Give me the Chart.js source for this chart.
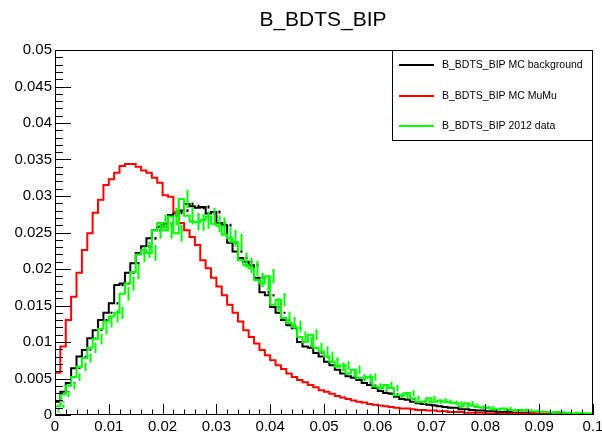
<!DOCTYPE html>
<html>
<head>
<meta charset="utf-8">
<title>B_BDTS_BIP</title>
<script src="https://cdn.jsdelivr.net/npm/chart.js@4.4.1/dist/chart.umd.min.js"></script>
<style>
  html, body { margin: 0; padding: 0; background: #fff; }
  canvas { display: block; }
</style>
</head>
<body>
<canvas id="myChart" width="602" height="433"></canvas>
<script>
// histogram binning: 100 bins between 0 and 0.1
const xMin = 0;
const xMax = 0.1;
const nBins = 100;

// bin contents, normalised to unit area
const mcBackground = [
  0.0008, 0.0018, 0.0032, 0.0044, 0.0064, 0.0080, 0.0089, 0.0105, 0.0116, 0.0130,
  0.0140, 0.0153, 0.0178, 0.0180, 0.0195, 0.0208, 0.0222, 0.0231, 0.0242, 0.0253,
  0.0258, 0.0262, 0.0274, 0.0277, 0.0280, 0.0289, 0.0286, 0.0284, 0.0285, 0.0276,
  0.0278, 0.0263, 0.0260, 0.0236, 0.0224, 0.0215, 0.0210, 0.0205, 0.0188, 0.0168,
  0.0164, 0.0148, 0.0140, 0.0130, 0.0123, 0.0119, 0.0100, 0.0094, 0.0092, 0.0085,
  0.0080, 0.0073, 0.0068, 0.0062, 0.0057, 0.0053, 0.0051, 0.0048, 0.0044, 0.0041,
  0.0037, 0.0033, 0.0030, 0.0029, 0.0025, 0.0022, 0.0021, 0.0018, 0.0016, 0.0015,
  0.0014, 0.0013, 0.0012, 0.0011, 0.0010, 0.0010, 0.0008, 0.0008, 0.0007, 0.0006,
  0.0006, 0.0005, 0.0005, 0.0004, 0.0004, 0.0004, 0.0003, 0.0003, 0.0003, 0.0003,
  0.0002, 0.0002, 0.0002, 0.0002, 0.0001, 0.0001, 0.0001, 0.0001, 0.0001, 0.0001
];

const mcMuMu = [
  0.0018, 0.0058, 0.0094, 0.0130, 0.0162, 0.0195, 0.0226, 0.0249, 0.0277, 0.0295,
  0.0315, 0.0323, 0.0332, 0.0341, 0.0344, 0.0344, 0.0340, 0.0335, 0.0332, 0.0325,
  0.0318, 0.0301, 0.0299, 0.0278, 0.0263, 0.0253, 0.0244, 0.0233, 0.0212, 0.0201,
  0.0188, 0.0176, 0.0164, 0.0151, 0.0140, 0.0128, 0.0116, 0.0107, 0.0098, 0.0089,
  0.0082, 0.0075, 0.0068, 0.0063, 0.0057, 0.0052, 0.0048, 0.0045, 0.0041, 0.0038,
  0.0034, 0.0032, 0.0029, 0.0026, 0.0024, 0.0022, 0.0020, 0.0018, 0.0017, 0.0015,
  0.0014, 0.0013, 0.0012, 0.0011, 0.0010, 0.0009, 0.0009, 0.0008, 0.0007, 0.0007,
  0.0006, 0.0006, 0.0005, 0.0005, 0.0004, 0.0004, 0.0004, 0.0003, 0.0003, 0.0003,
  0.0003, 0.0002, 0.0002, 0.0002, 0.0002, 0.0002, 0.0002, 0.0002, 0.0002, 0.0002,
  0.0002, 0.0002, 0.0001, 0.0001, 0.0001, 0.0001, 0.0001, 0.0001, 0.0001, 0.0001
];

const data2012 = [
  0.0005, 0.0012, 0.0028, 0.0040, 0.0052, 0.0066, 0.0078, 0.0092, 0.0104, 0.0118,
  0.0128, 0.0135, 0.0140, 0.0166, 0.0180, 0.0196, 0.0220, 0.0226, 0.0222, 0.0253,
  0.0263, 0.0253, 0.0272, 0.0249, 0.0296, 0.0273, 0.0265, 0.0264, 0.0267, 0.0272,
  0.0262, 0.0259, 0.0247, 0.0242, 0.0237, 0.0212, 0.0205, 0.0201, 0.0185, 0.0180,
  0.0190, 0.0151, 0.0158, 0.0133, 0.0126, 0.0121, 0.0107, 0.0100, 0.0110, 0.0092,
  0.0087, 0.0080, 0.0073, 0.0066, 0.0068, 0.0057, 0.0062, 0.0051, 0.0051, 0.0052,
  0.0039, 0.0037, 0.0041, 0.0037, 0.0027, 0.0027, 0.0030, 0.0023, 0.0018, 0.0018,
  0.0023, 0.0018, 0.0020, 0.0018, 0.0017, 0.0016, 0.0012, 0.0016, 0.0013, 0.0011,
  0.0010, 0.0010, 0.0008, 0.0008, 0.0009, 0.0007, 0.0006, 0.0007, 0.0006, 0.0005,
  0.0005, 0.0004, 0.0004, 0.0003, 0.0004, 0.0003, 0.0003, 0.0002, 0.0003, 0.0002
];

// number of entries behind each normalised histogram (Poisson errors)
const bkgEntries = 700000;
const dataEntries = 19000;

const seriesLabels = ['B_BDTS_BIP MC background', 'B_BDTS_BIP MC MuMu', 'B_BDTS_BIP 2012 data'];
const seriesColors = ['#000000', '#ff0000', '#00ff00'];

const xTickLabels = ['0', '0.01', '0.02', '0.03', '0.04', '0.05', '0.06', '0.07', '0.08', '0.09', '0.1'];
const yTickLabels = ['0', '0.005', '0.01', '0.015', '0.02', '0.025', '0.03', '0.035', '0.04', '0.045', '0.05'];

const binWidth = (xMax - xMin) / nBins;

// turn bin contents into points on the left bin edges, closed at both ends
function histPoints(values) {
  let pts = [{x: xMin, y: 0}];
  for (let i = 0; i < values.length; i++) {
    pts.push({x: xMin + i * binWidth, y: values[i]});
  }
  pts.push({x: xMax, y: values[values.length - 1]});
  return pts;
}

const fontName = '"Liberation Sans", Arial, Helvetica, sans-serif';

// vertical error bars at bin centres
const errorBars = {
  id: 'errorBars',
  afterDatasetDraw(chart, args) {
    const ds = chart.data.datasets[args.index];
    if (!ds.entries) return;
    const ctx = chart.ctx;
    const xs = chart.scales.x, ys = chart.scales.y;
    const area = chart.chartArea;
    ctx.save();
    ctx.beginPath();
    ctx.rect(area.left, area.top, area.right - area.left, area.bottom - area.top);
    ctx.clip();
    ctx.strokeStyle = ds.borderColor;
    ctx.lineWidth = ds.borderWidth;
    ctx.beginPath();
    ds.values.forEach((v, i) => {
      const err = Math.sqrt(v / ds.entries);
      const px = Math.round(xs.getPixelForValue(xMin + (i + 0.5) * binWidth)) + 0.5;
      ctx.moveTo(px, ys.getPixelForValue(v - err));
      ctx.lineTo(px, ys.getPixelForValue(v + err));
    });
    ctx.stroke();
    ctx.restore();
  }
};

// frame with ROOT-style inward ticks
const frameTicks = {
  id: 'frameTicks',
  afterDatasetsDraw(chart) {
    const ctx = chart.ctx;
    const xs = chart.scales.x, ys = chart.scales.y;
    const a = chart.chartArea;
    ctx.save();
    ctx.strokeStyle = '#000';
    ctx.lineWidth = 1;
    ctx.strokeRect(a.left + 0.5, a.top + 0.5, a.right - a.left - 1, a.bottom - a.top - 1);
    ctx.beginPath();
    // y axis: minor every 0.001, major every 0.005
    for (let i = 0; i <= 50; i++) {
      const py = Math.round(ys.getPixelForValue(i * 0.001)) + 0.5;
      const len = i % 5 === 0 ? 16 : 8;
      ctx.moveTo(a.left, py);
      ctx.lineTo(a.left + len, py);
    }
    // x axis: minor every 0.002, major every 0.01
    for (let i = 0; i <= 50; i++) {
      const px = Math.round(xs.getPixelForValue(i * 0.002)) + 0.5;
      const len = i % 5 === 0 ? 11 : 5.5;
      ctx.moveTo(px, a.bottom);
      ctx.lineTo(px, a.bottom - len);
    }
    ctx.stroke();
    ctx.restore();
  }
};

// title and legend box
const titleLegend = {
  id: 'titleLegend',
  afterDraw(chart) {
    const ctx = chart.ctx;
    const a = chart.chartArea;
    ctx.save();
    ctx.fillStyle = '#000';
    ctx.font = '21px ' + fontName;
    ctx.textAlign = 'center';
    ctx.textBaseline = 'middle';
    ctx.fillText('B_BDTS_BIP', (a.left + a.right) / 2 - 1, 20);

    const bx = 392, by = a.top, bw = a.right - bx, bh = 91;
    ctx.fillStyle = '#fff';
    ctx.fillRect(bx, by, bw, bh);
    ctx.strokeStyle = '#000';
    ctx.lineWidth = 1;
    ctx.strokeRect(bx + 0.5, by + 0.5, bw - 1, bh - 1);

    ctx.font = '10.5px ' + fontName;
    ctx.textAlign = 'left';
    const rows = [65, 96, 126];
    chart.data.datasets.forEach((ds, i) => {
      ctx.strokeStyle = ds.borderColor;
      ctx.lineWidth = 2;
      ctx.beginPath();
      ctx.moveTo(399, rows[i]);
      ctx.lineTo(434, rows[i]);
      ctx.stroke();
      ctx.fillStyle = '#000';
      ctx.fillText(ds.label, 442, rows[i] + 0.5);
    });
    ctx.restore();
  }
};

const allValues = [mcBackground, mcMuMu, data2012];
const entries = [bkgEntries, 0, dataEntries];
const drawOrder = [2, 1, 0];

const ctx = document.getElementById('myChart');

new Chart(ctx, {
  type: 'line',
  data: {
    datasets: allValues.map((vals, i) => ({
      label: seriesLabels[i],
      data: histPoints(vals),
      values: vals,
      entries: entries[i],
      borderColor: seriesColors[i],
      backgroundColor: seriesColors[i],
      borderWidth: 2,
      pointRadius: 0,
      stepped: 'after',
      fill: false,
      order: drawOrder[i]
    }))
  },
  options: {
    responsive: false,
    animation: false,
    devicePixelRatio: 1,
    layout: { padding: { top: 50, right: 9, left: 0, bottom: 0 } },
    plugins: {
      legend: { display: false },
      tooltip: { enabled: false },
      title: { display: false }
    },
    scales: {
      x: {
        type: 'linear',
        min: xMin,
        max: xMax,
        grid: { display: false, drawTicks: false },
        border: { display: false },
        ticks: {
          stepSize: 0.01,
          autoSkip: false,
          maxRotation: 0,
          padding: 3,
          color: '#000',
          font: { family: fontName, size: 15 },
          callback: (v) => xTickLabels[Math.round(v / 0.01)]
        },
        afterFit: (s) => { s.height = 18; s.paddingLeft = 0; s.paddingRight = 0; }
      },
      y: {
        type: 'linear',
        min: 0,
        max: 0.05,
        grid: { display: false, drawTicks: false },
        border: { display: false },
        ticks: {
          stepSize: 0.005,
          autoSkip: false,
          padding: 3,
          color: '#000',
          font: { family: fontName, size: 15 },
          callback: (v) => yTickLabels[Math.round(v / 0.005)]
        },
        afterFit: (s) => { s.width = 55; s.paddingTop = 0; s.paddingBottom = 0; }
      }
    }
  },
  plugins: [errorBars, frameTicks, titleLegend]
});
</script>
</body>
</html>
